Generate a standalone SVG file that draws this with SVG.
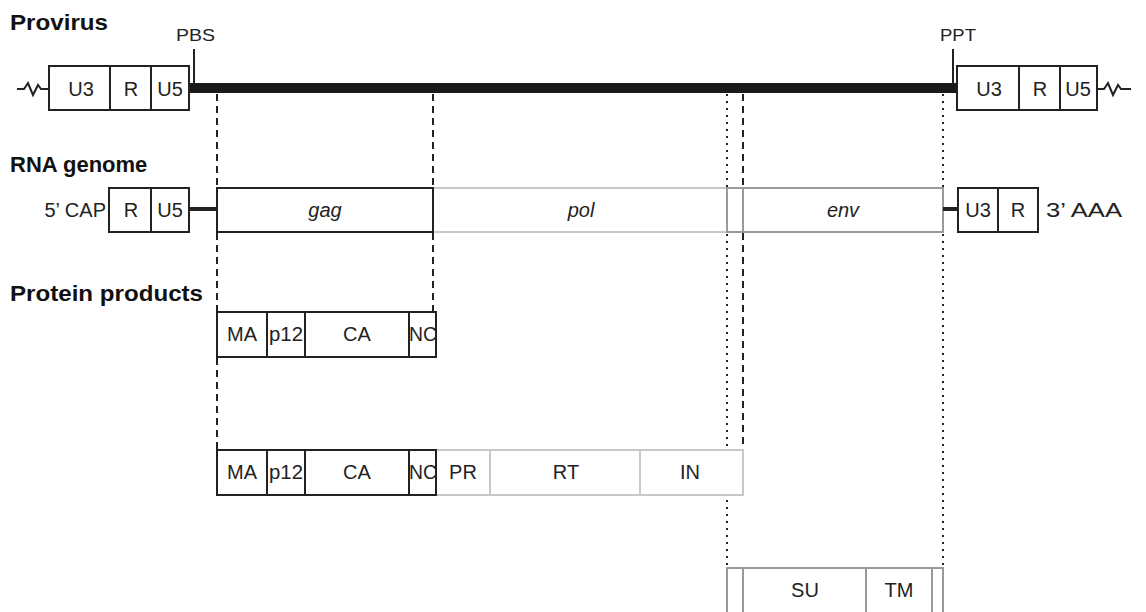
<svg xmlns="http://www.w3.org/2000/svg" width="1146" height="612" viewBox="0 0 1146 612">
<style>
text{font-family:"Liberation Sans",Arial,sans-serif;font-size:20px;fill:#222}
.t{font-weight:bold;font-size:22px;fill:#111}
.s{font-size:17px}
.c{text-anchor:middle}
.i{font-style:italic}
.k{fill:#fff;stroke:#222;stroke-width:2}
.g{fill:#fff;stroke:#9a9a9a;stroke-width:2}
.lg{fill:#fff;stroke:#c8c8c8;stroke-width:2}
.dv{stroke:#222;stroke-width:2}
.dg{stroke:#9a9a9a;stroke-width:2}
.dl{stroke:#c8c8c8;stroke-width:2}
.dash{stroke:#222;stroke-width:2;stroke-dasharray:7,5;fill:none}
.dot{stroke:#222;stroke-width:2;stroke-dasharray:2,5;fill:none}
</style>
<rect width="1146" height="612" fill="#fff"/>
<text class="t" x="10" y="30" textLength="98" lengthAdjust="spacingAndGlyphs">Provirus</text>
<text class="t" x="10" y="172">RNA genome</text>
<text class="t" x="10" y="301" textLength="193" lengthAdjust="spacingAndGlyphs">Protein products</text>
<g id="connectors">
<line class="dash" x1="217" y1="94" x2="217" y2="187"/>
<line class="dash" x1="217" y1="233" x2="217" y2="311"/>
<line class="dash" x1="217" y1="358" x2="217" y2="449"/>
<line class="dash" x1="433" y1="94" x2="433" y2="187"/>
<line class="dash" x1="433" y1="233" x2="433" y2="311"/>
<line class="dot" x1="727" y1="94" x2="727" y2="567"/>
<line class="dash" x1="743" y1="94" x2="743" y2="187"/>
<line class="dash" x1="743" y1="233" x2="743" y2="449"/>
<line class="dot" x1="943" y1="94" x2="943" y2="567"/>
</g>
<g id="provirus">
<path d="M17,89 L24,89 L28,83 L33,95 L38,85 L41,89 L49,89" fill="none" stroke="#222" stroke-width="2"/>
<path d="M1097,89 L1104,89 L1108,83 L1113,95 L1118,85 L1121,89 L1131,89" fill="none" stroke="#222" stroke-width="2"/>
<rect x="189" y="83" width="768" height="10" fill="#1a1a1a"/>
<line class="dv" x1="194" y1="49" x2="194" y2="84"/>
<line class="dv" x1="953" y1="49" x2="953" y2="84"/>
<text class="s" x="176" y="41" textLength="39" lengthAdjust="spacingAndGlyphs">PBS</text>
<text class="s" x="940" y="41" textLength="36" lengthAdjust="spacingAndGlyphs">PPT</text>
<rect class="k" x="49" y="66" width="140" height="44"/>
<line class="dv" x1="110" y1="66" x2="110" y2="110"/>
<line class="dv" x1="151" y1="66" x2="151" y2="110"/>
<text class="c" x="81" y="96">U3</text>
<text class="c" x="131" y="96">R</text>
<text class="c" x="170" y="96">U5</text>
<rect class="k" x="957" y="66" width="140" height="44"/>
<line class="dv" x1="1019" y1="66" x2="1019" y2="110"/>
<line class="dv" x1="1060" y1="66" x2="1060" y2="110"/>
<text class="c" x="989" y="96">U3</text>
<text class="c" x="1040" y="96">R</text>
<text class="c" x="1078" y="96">U5</text>
</g>
<g id="rna">
<text x="106" y="217" text-anchor="end">5’ CAP</text>
<rect class="k" x="109" y="188" width="80" height="44"/>
<line class="dv" x1="151" y1="188" x2="151" y2="232"/>
<text class="c" x="131" y="217">R</text>
<text class="c" x="170" y="217">U5</text>
<line x1="189" y1="209" x2="217" y2="209" stroke="#222" stroke-width="4"/>
<rect class="lg" x="433" y="188" width="294" height="44"/>
<rect class="g" x="727" y="188" width="16" height="44"/>
<rect class="g" x="743" y="188" width="200" height="44"/>
<rect class="k" x="217" y="188" width="216" height="44"/>
<text class="c i" x="325" y="217">gag</text>
<text class="c i" x="581" y="217">pol</text>
<text class="c i" x="843" y="217">env</text>
<line x1="943" y1="209" x2="958" y2="209" stroke="#222" stroke-width="4"/>
<rect class="k" x="958" y="188" width="80" height="44"/>
<line class="dv" x1="998" y1="188" x2="998" y2="232"/>
<text class="c" x="978" y="217">U3</text>
<text class="c" x="1018" y="217">R</text>
<text x="1046" y="217" textLength="76" lengthAdjust="spacingAndGlyphs">3’ AAA</text>
</g>
<g id="gag">
<rect class="k" x="217" y="312" width="219" height="45"/>
<line class="dv" x1="267" y1="312" x2="267" y2="357"/>
<line class="dv" x1="305" y1="312" x2="305" y2="357"/>
<line class="dv" x1="409" y1="312" x2="409" y2="357"/>
<text class="c" x="242" y="341">MA</text>
<text class="c" x="286" y="341" textLength="34" lengthAdjust="spacingAndGlyphs">p12</text>
<text class="c" x="357" y="341">CA</text>
<text class="c" x="423" y="341" textLength="28" lengthAdjust="spacingAndGlyphs">NC</text>
</g>
<g id="gagpol">
<rect class="lg" x="436" y="450" width="307" height="45"/>
<line class="dl" x1="490" y1="450" x2="490" y2="495"/>
<line class="dl" x1="640" y1="450" x2="640" y2="495"/>
<rect class="k" x="217" y="450" width="219" height="45"/>
<line class="dv" x1="267" y1="450" x2="267" y2="495"/>
<line class="dv" x1="305" y1="450" x2="305" y2="495"/>
<line class="dv" x1="409" y1="450" x2="409" y2="495"/>
<text class="c" x="242" y="479">MA</text>
<text class="c" x="286" y="479" textLength="34" lengthAdjust="spacingAndGlyphs">p12</text>
<text class="c" x="357" y="479">CA</text>
<text class="c" x="423" y="479" textLength="28" lengthAdjust="spacingAndGlyphs">NC</text>
<text class="c" x="463" y="479">PR</text>
<text class="c" x="566" y="479">RT</text>
<text class="c" x="690" y="479">IN</text>
</g>
<g id="env">
<rect class="g" x="727" y="568" width="216" height="60"/>
<line class="dg" x1="743" y1="568" x2="743" y2="612"/>
<line class="dg" x1="866" y1="568" x2="866" y2="612"/>
<line class="dg" x1="932" y1="568" x2="932" y2="612"/>
<text class="c" x="805" y="597">SU</text>
<text class="c" x="899" y="597">TM</text>
</g>
</svg>
